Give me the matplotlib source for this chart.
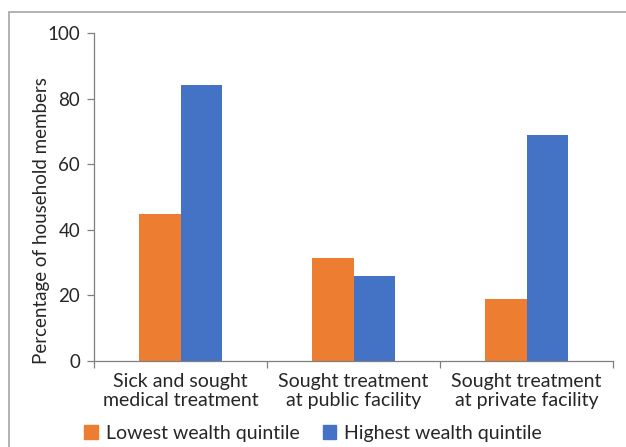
import matplotlib.pyplot as plt
from matplotlib.patches import Rectangle, Patch
import numpy as np

categories = [
    "Sick and sought\nmedical treatment",
    "Sought treatment\nat public facility",
    "Sought treatment\nat private facility",
]
lowest = [44.8, 31.4, 18.9]
highest = [84.0, 25.9, 68.9]
series_names = ["Lowest wealth quintile", "Highest wealth quintile"]
y_ticks = [0, 20, 40, 60, 80, 100]

plt.rcParams["font.family"] = ["Lato", "DejaVu Sans"]
text_color = "#262626"
axis_color = "#7f7f7f"
orange = "#ED7D31"
blue = "#4472C4"

fig = plt.figure(figsize=(6.26, 4.47), dpi=100)
fig.patches.append(
    Rectangle((9 / 626, -0.1), 1.2, 1 - 12 / 447 + 0.1, transform=fig.transFigure,
              fill=False, edgecolor="#a6a6a6", linewidth=1.2)
)
ax = fig.add_axes([94 / 626, 1 - 361 / 447, (613 - 94) / 626, (361 - 33) / 447])

x = np.arange(len(categories))
width = 0.24
ax.bar(x - width / 2, lowest, width, color=orange, label=series_names[0])
ax.bar(x + width / 2, highest, width, color=blue, label=series_names[1])

ax.set_xlim(-0.5, len(categories) - 0.5)
ax.set_ylim(0, 100)
ax.set_yticks(y_ticks)
ax.set_xticks(np.arange(len(categories) + 1) - 0.5)
ax.set_xticklabels([""] * (len(categories) + 1))
ax.set_xticks(x, minor=True)
ax.set_xticklabels(categories, minor=True, fontsize=14, color=text_color,
                   linespacing=1.1)
ax.tick_params(axis="x", which="minor", length=0, pad=9)
ax.tick_params(axis="x", which="major", length=5, color=axis_color, width=0.9)
ax.tick_params(axis="y", length=5, color=axis_color, width=0.9,
               labelsize=13.5, labelcolor=text_color, pad=5)

for side in ["top", "right"]:
    ax.spines[side].set_visible(False)
for side in ["left", "bottom"]:
    ax.spines[side].set_color(axis_color)
    ax.spines[side].set_linewidth(0.9)

ax.set_ylabel("Percentage of household members", fontsize=13.5,
              color=text_color, va="center")
ax.yaxis.set_label_coords(-0.102, 0.427)

handles = [Patch(color=orange), Patch(color=blue)]
fig.legend(handles, series_names, loc="center", bbox_to_anchor=(0.5, 1 - 433 / 447),
           ncol=2, frameon=False, fontsize=14, handlelength=0.7,
           handleheight=0.7, handletextpad=0.4, columnspacing=1.2,
           labelcolor=text_color)

fig.savefig("out.png", dpi=100)
